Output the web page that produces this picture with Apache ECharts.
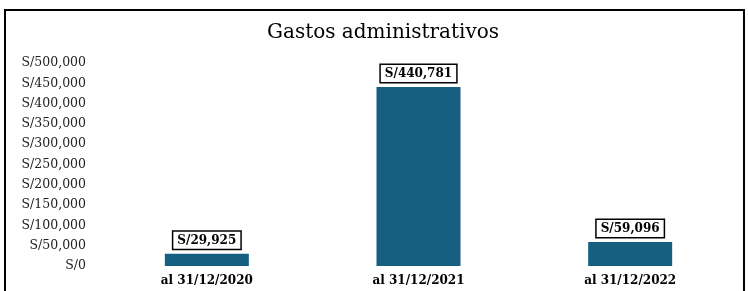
<!DOCTYPE html>
<html><head><meta charset="utf-8">
<script src="https://cdn.jsdelivr.net/npm/echarts@6/dist/echarts.min.js"></script>
<style>html,body{margin:0;padding:0;background:#fff}#c{width:748px;height:291px}</style>
</head><body><div id="c"></div>
<script>
const categories = ['al 31/12/2020', 'al 31/12/2021', 'al 31/12/2022'];
const values = [29925, 440781, 59096];
const yTicks = [0, 50000, 100000, 150000, 200000, 250000, 300000, 350000, 400000, 450000, 500000];
const titleText = 'Gastos administrativos';

const fmt = v => 'S/' + v.toLocaleString('en-US');
const chart = echarts.init(document.getElementById('c'));
chart.setOption({
  animation: false,
  backgroundColor: '#fff',
  graphic: [{
    type: 'rect', shape: {x: 5, y: 10, width: 739, height: 300},
    style: {fill: 'none', stroke: '#000', lineWidth: 2}, silent: true
  }],
  title: {
    text: titleText, left: 378, top: 18, textAlign: 'center',
    textStyle: {fontFamily: 'DejaVu Serif', fontSize: 20, fontWeight: 'normal', color: '#000'}
  },
  grid: {left: 101, right: 12, top: 63, bottom: 25, containLabel: false},
  xAxis: {
    type: 'category', data: categories,
    axisLine: {show: false}, axisTick: {show: false},
    axisLabel: {fontFamily: 'DejaVu Serif', fontSize: 12, fontWeight: 'bold', color: '#000', margin: 9}
  },
  yAxis: {
    type: 'value', min: yTicks[0], max: yTicks[yTicks.length - 1], interval: 50000,
    splitLine: {show: false}, axisLine: {show: false}, axisTick: {show: false},
    axisLabel: {fontFamily: 'DejaVu Serif', fontSize: 12.5, color: '#222', margin: 15, formatter: fmt}
  },
  series: [{
    type: 'bar', data: values, barWidth: 84,
    itemStyle: {color: '#165f80'},
    label: {
      show: true, position: 'top', distance: 5, formatter: p => fmt(p.value),
      fontFamily: 'DejaVu Serif', fontSize: 12, fontWeight: 'bold', color: '#000',
      backgroundColor: '#fff', borderColor: '#000', borderWidth: 1.5, padding: [3, 4, 2, 4]
    }
  }]
});
</script></body></html>
